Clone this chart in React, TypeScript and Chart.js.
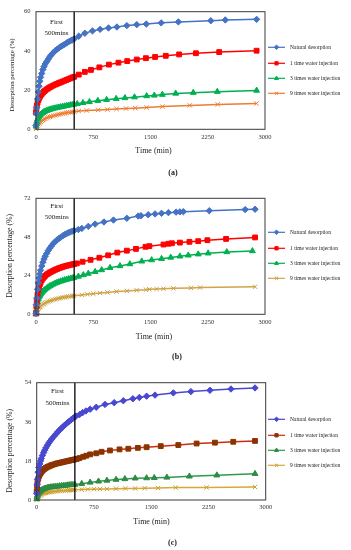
import React, { useEffect, useRef } from "react";
import { Chart, registerables } from "chart.js";
import { drawPoint } from "chart.js/helpers";

Chart.register(...registerables);

const SERIF = '"Liberation Serif", "Times New Roman", serif';

// ---------- shared ----------
const seriesNames = [
  "Natural desorption",
  "1 time water injection",
  "3 times water injection",
  "9 times water injection",
];
const xTicks = [0, 750, 1500, 2250, 3000];
const firstMarkMinutes = 500;
const firstLabel = "First";
const minsLabel = "500mins";
const xTitle = "Time (min)";
const yTitle = "Desorption percentage (%)";
const earlyTimes = [0, 5, 10, 20, 30, 40, 50, 60, 75, 90, 105, 120, 140, 160, 180, 200, 225, 250, 275, 300, 325, 350, 375, 400, 425, 450, 475, 500];

// ---------- (a) ----------
const aYTicks = [0, 20, 40, 60];
const aNaturalEarly = [2, 8, 11, 15.5, 19, 22, 24.5, 26.5, 28.5, 30.5, 32, 33.3, 34.5, 35.8, 37, 38, 39, 40, 40.8, 41.5, 42.2, 42.8, 43.4, 44, 44.6, 45.1, 45.6, 46.1];
const aNaturalT = [560, 640, 740, 840, 950, 1060, 1190, 1320, 1445, 1640, 1865, 2290, 2480, 2890];
const aNaturalV = [47.5, 49, 50.2, 51, 51.7, 52.2, 52.9, 53.4, 53.7, 54.3, 54.8, 55.4, 55.8, 56.1];
const aOneEarly = [8.5, 10.5, 12, 13.5, 14.8, 15.8, 16.6, 17.2, 18, 18.7, 19.3, 19.8, 20.4, 20.9, 21.4, 21.8, 22.3, 22.8, 23.2, 23.6, 24, 24.4, 24.8, 25.2, 25.6, 26, 26.4, 26.8];
const aOneT = [560, 640, 720, 830, 955, 1080, 1195, 1320, 1440, 1560, 1700, 1875, 2095, 2400, 2890];
const aOneV = [27.9, 29.3, 30.3, 31.6, 33, 34, 34.8, 35.6, 36.3, 36.9, 37.5, 38.2, 38.8, 39.4, 40.1];
const aThreeEarly = [1.5, 3, 4, 5.2, 6, 6.7, 7.2, 7.6, 8.1, 8.5, 8.9, 9.2, 9.5, 9.8, 10.1, 10.3, 10.6, 10.8, 11, 11.2, 11.4, 11.6, 11.8, 12, 12.2, 12.4, 12.5, 12.7];
const aThreeT = [540, 615, 700, 810, 925, 1050, 1165, 1290, 1450, 1550, 1655, 1830, 2060, 2375, 2890];
const aThreeV = [13, 13.5, 14, 14.6, 15.1, 15.6, 16, 16.4, 17, 17.3, 17.7, 18.3, 18.7, 19.2, 19.8];
const aNineEarly = [0.2, 0.8, 1.3, 2, 2.6, 3.1, 3.5, 3.9, 4.4, 4.8, 5.1, 5.4, 5.8, 6.1, 6.4, 6.6, 6.9, 7.1, 7.4, 7.6, 7.8, 8, 8.2, 8.4, 8.6, 8.7, 8.9, 9];
const aNineT = [560, 665, 815, 935, 1055, 1180, 1300, 1450, 1655, 2015, 2380, 2890];
const aNineV = [9.3, 9.6, 9.9, 10.1, 10.4, 10.6, 10.8, 11.1, 11.6, 12.2, 12.7, 13.2];

// ---------- (b) ----------
const bYTicks = [0, 24, 48, 72];
const bNaturalEarly = [0.5, 6, 10, 15.5, 19.5, 22.5, 25, 27.3, 30, 32.3, 34.3, 36, 37.8, 39.5, 41, 42.3, 43.8, 45, 46.1, 47, 47.9, 48.7, 49.4, 50, 50.6, 51.1, 51.6, 52];
const bNaturalT = [555, 600, 685, 775, 890, 1015, 1190, 1340, 1375, 1470, 1560, 1645, 1735, 1835, 1885, 1930, 2270, 2740, 2870];
const bNaturalV = [52.6, 53.3, 54.6, 56, 57.3, 58.5, 59.6, 61, 61.2, 61.8, 62.3, 62.7, 63.1, 63.4, 63.6, 63.7, 64.3, 65, 65.2];
const bOneEarly = [0.5, 5, 8, 12, 15, 17, 18.5, 19.7, 21.2, 22.3, 23.2, 23.9, 24.7, 25.3, 25.9, 26.4, 27, 27.6, 28.1, 28.6, 29, 29.4, 29.8, 30.1, 30.4, 30.7, 31, 31.2];
const bOneT = [535, 610, 715, 830, 945, 1065, 1190, 1310, 1435, 1485, 1670, 1735, 1780, 1885, 2010, 2125, 2245, 2490, 2870];
const bOneV = [31.6, 32.6, 33.8, 35.1, 36.6, 38.3, 39.5, 40.6, 41.9, 42.3, 43.3, 43.8, 44.1, 44.5, 45, 45.4, 46, 46.8, 47.7];
const bThreeEarly = [0.3, 3, 5, 7.5, 9.3, 10.6, 11.6, 12.4, 13.4, 14.2, 14.9, 15.5, 16.2, 16.9, 17.5, 18, 18.6, 19.2, 19.7, 20.1, 20.5, 20.9, 21.3, 21.6, 21.9, 22.2, 22.5, 22.8];
const bThreeT = [555, 620, 685, 775, 860, 970, 1100, 1230, 1385, 1515, 1645, 1765, 1885, 1995, 2125, 2255, 2500, 2835];
const bThreeV = [23.5, 24.4, 25.3, 26.4, 27.5, 28.9, 30, 31.2, 32.9, 33.7, 34.5, 35.3, 36, 36.6, 37.3, 37.9, 38.7, 39.3];
const bNineEarly = [0, 0.8, 1.5, 2.5, 3.3, 4, 4.5, 5, 5.6, 6.2, 6.6, 7, 7.5, 7.9, 8.3, 8.6, 9, 9.3, 9.6, 9.9, 10.1, 10.4, 10.6, 10.8, 11, 11.2, 11.4, 11.5];
const bNineT = [600, 675, 750, 840, 935, 1055, 1190, 1320, 1440, 1485, 1580, 1670, 1800, 2030, 2150, 2870];
const bNineV = [12, 12.4, 12.8, 13.2, 13.6, 14.1, 14.5, 14.9, 15.3, 15.5, 15.7, 15.9, 16.1, 16.4, 16.6, 17.1];

// ---------- (c) ----------
const cYTicks = [0, 18, 36, 54];
const cNaturalEarly = [3, 7, 9.5, 12.8, 15, 16.6, 18, 19.1, 20.5, 21.8, 22.9, 24, 25.2, 26.3, 27.3, 28.2, 29.3, 30.3, 31.3, 32.2, 33.1, 33.9, 34.7, 35.5, 36.2, 36.9, 37.6, 38.3];
const cNaturalT = [515, 560, 600, 645, 700, 780, 895, 1015, 1135, 1260, 1345, 1440, 1550, 1790, 2020, 2270, 2545, 2860];
const cNaturalV = [38.6, 39.3, 40.2, 41, 41.8, 42.7, 44, 44.8, 45.7, 46.6, 47.2, 47.8, 48.3, 49.3, 49.9, 50.5, 51.1, 51.6];
const cOneEarly = [4, 6.5, 8, 9.8, 11, 11.8, 12.4, 12.9, 13.5, 14, 14.4, 14.8, 15.2, 15.5, 15.8, 16.1, 16.4, 16.7, 16.9, 17.1, 17.3, 17.5, 17.7, 17.9, 18.1, 18.3, 18.5, 18.7];
const cOneT = [525, 560, 610, 650, 700, 780, 850, 960, 1085, 1200, 1325, 1440, 1625, 1855, 2095, 2335, 2575, 2860];
const cOneV = [18.9, 19.3, 19.9, 20.4, 21, 21.5, 22.2, 22.8, 23.3, 23.6, 24, 24.3, 24.8, 25.3, 26, 26.4, 26.8, 27.2];
const cThreeEarly = [0.5, 1.5, 2.2, 3, 3.5, 3.9, 4.2, 4.5, 4.8, 5, 5.2, 5.4, 5.6, 5.8, 5.9, 6, 6.1, 6.2, 6.3, 6.4, 6.5, 6.6, 6.7, 6.8, 6.9, 7, 7, 7.1];
const cThreeT = [590, 700, 810, 920, 1040, 1155, 1290, 1440, 1540, 1705, 2000, 2360, 2860];
const cThreeV = [7.5, 8.1, 8.6, 9, 9.4, 9.7, 10, 10.1, 10.2, 10.4, 10.9, 11.4, 12.1];
const cNineEarly = [0, 0.5, 0.9, 1.4, 1.8, 2.1, 2.4, 2.6, 2.8, 3, 3.2, 3.3, 3.5, 3.6, 3.7, 3.8, 3.9, 4, 4.1, 4.2, 4.3, 4.3, 4.4, 4.5, 4.5, 4.6, 4.6, 4.7];
const cNineT = [590, 670, 750, 830, 920, 1040, 1160, 1290, 1415, 1590, 1820, 2225, 2860];
const cNineV = [4.8, 4.9, 5, 5.1, 5.1, 5.2, 5.3, 5.3, 5.4, 5.5, 5.7, 5.8, 6.0];

const pointStyles = ["rectRot", "rect", "triangle", "crossRot"];
const pointRadii = [3.2, 3.4, 3.4, 3.1];

function pts(early: number[], t: number[], v: number[]) {
  return [
    ...earlyTimes.map((x, i) => ({ x, y: early[i] })),
    ...t.map((x, i) => ({ x, y: v[i] })),
  ];
}

type Spec = {
  top: number;
  height: number;
  padLeft: number;
  plotTop: number;
  plotBottom: number;
  plotRight: number;
  yTicks: number[];
  series: { x: number; y: number }[][];
  lineColors: string[];
  pointColors: string[];
  yTitleX: number;
  yTitleY: number;
  yTitleSize: number;
  xTitleX: number;
  xTitleY: number;
  tag: string;
  tagX: number;
  tagY: number;
  firstX: number;
  firstY: number;
  minsY: number;
  legendY: number[];
};

const specs: Spec[] = [
  {
    top: 0, height: 183, padLeft: 0, plotTop: 11.7, plotBottom: 129.3, plotRight: 265,
    yTicks: aYTicks,
    series: [
      pts(aNaturalEarly, aNaturalT, aNaturalV),
      pts(aOneEarly, aOneT, aOneV),
      pts(aThreeEarly, aThreeT, aThreeV),
      pts(aNineEarly, aNineT, aNineV),
    ],
    lineColors: ["#4472C4", "#FF0000", "#00B050", "#ED7D31"],
    pointColors: ["#4472C4", "#FF0000", "#00B050", "#ED7D31"],
    yTitleX: 12.5, yTitleY: 75, yTitleSize: 6.8,
    xTitleX: 153.5, xTitleY: 150.7,
    tag: "(a)", tagX: 173, tagY: 173.3,
    firstX: 56.5, firstY: 21.7, minsY: 33,
    legendY: [47.3, 63.3, 78.3, 93.3],
  },
  {
    top: 183, height: 183, padLeft: 0, plotTop: 15.3, plotBottom: 131.3, plotRight: 265,
    yTicks: bYTicks,
    series: [
      pts(bNaturalEarly, bNaturalT, bNaturalV),
      pts(bOneEarly, bOneT, bOneV),
      pts(bThreeEarly, bThreeT, bThreeV),
      pts(bNineEarly, bNineT, bNineV),
    ],
    lineColors: ["#4472C4", "#FF0000", "#00B050", "#D4A24A"],
    pointColors: ["#4472C4", "#FF0000", "#00B050", "#C9A040"],
    yTitleX: 10, yTitleY: 72.8, yTitleSize: 7.8,
    xTitleX: 154, xTitleY: 154,
    tag: "(b)", tagX: 177, tagY: 173.7,
    firstX: 56.7, firstY: 22.7, minsY: 33.7,
    legendY: [49.3, 65.3, 80.3, 95.3],
  },
  {
    top: 366, height: 184, padLeft: 0.7, plotTop: 16.7, plotBottom: 134, plotRight: 265.7,
    yTicks: cYTicks,
    series: [
      pts(cNaturalEarly, cNaturalT, cNaturalV),
      pts(cOneEarly, cOneT, cOneV),
      pts(cThreeEarly, cThreeT, cThreeV),
      pts(cNineEarly, cNineT, cNineV),
    ],
    lineColors: ["#4848D0", "#D02A12", "#2E9A4A", "#D8A838"],
    pointColors: ["#4848D0", "#8B3300", "#2E8B45", "#C8A030"],
    yTitleX: 9.5, yTitleY: 84.8, yTitleSize: 7.8,
    xTitleX: 151.5, xTitleY: 156.3,
    tag: "(c)", tagX: 172.5, tagY: 176.7,
    firstX: 57.5, firstY: 25, minsY: 36.7,
    legendY: [53.3, 69.3, 84.3, 99.3],
  },
];

function makeDecor(spec: Spec) {
  return {
    id: "decor",
    afterDatasetsDraw(chart: any) {
      const { ctx, chartArea: ca } = chart;
      const xs = chart.scales.x;
      ctx.save();
      // 500 min marker
      const px = xs.getPixelForValue(firstMarkMinutes);
      ctx.strokeStyle = "#000";
      ctx.lineWidth = 1.3;
      ctx.beginPath();
      ctx.moveTo(px, ca.top);
      ctx.lineTo(px, ca.bottom);
      ctx.stroke();
      // frame
      ctx.strokeStyle = "#3a3a3a";
      ctx.lineWidth = 1;
      ctx.strokeRect(ca.left, ca.top, ca.right - ca.left, ca.bottom - ca.top);
      // annotations
      ctx.fillStyle = "#222";
      ctx.textAlign = "center";
      ctx.textBaseline = "middle";
      ctx.font = `7px ${SERIF}`;
      ctx.fillText(firstLabel, spec.firstX, spec.firstY);
      ctx.fillText(minsLabel, spec.firstX, spec.minsY);
      ctx.font = `8px ${SERIF}`;
      ctx.fillText(xTitle, spec.xTitleX, spec.xTitleY);
      ctx.save();
      ctx.translate(spec.yTitleX, spec.yTitleY);
      ctx.rotate(-Math.PI / 2);
      ctx.font = `${spec.yTitleSize}px ${SERIF}`;
      ctx.fillText(yTitle, 0, 0);
      ctx.restore();
      ctx.font = `bold 8px ${SERIF}`;
      ctx.fillText(spec.tag, spec.tagX, spec.tagY);
      // legend
      chart.data.datasets.forEach((ds: any, i: number) => {
        const y = spec.legendY[i];
        ctx.strokeStyle = ds.borderColor;
        ctx.lineWidth = 1.2;
        ctx.beginPath();
        ctx.moveTo(268, y);
        ctx.lineTo(285, y);
        ctx.stroke();
        ctx.fillStyle = ds.pointBackgroundColor;
        ctx.strokeStyle = ds.pointBorderColor;
        ctx.lineWidth = 1;
        drawPoint(ctx, { pointStyle: ds.pointStyle, radius: 2.3, rotation: 0, borderWidth: 1 } as any, 276.5, y);
        ctx.fillStyle = "#222";
        ctx.textAlign = "left";
        ctx.font = `5.5px ${SERIF}`;
        ctx.fillText(ds.label, 290, y);
      });
      ctx.restore();
    },
  };
}

function Panel({ spec }: { spec: Spec }) {
  const ref = useRef<HTMLCanvasElement | null>(null);
  useEffect(() => {
    if (!ref.current) return;
    const yT = spec.yTicks;
    const chart = new Chart(ref.current, {
      type: "line",
      data: {
        datasets: spec.series.map((data, i) => ({
          label: seriesNames[i],
          data,
          borderColor: spec.lineColors[i],
          backgroundColor: spec.pointColors[i],
          pointBackgroundColor: spec.pointColors[i],
          pointBorderColor: spec.pointColors[i],
          pointStyle: pointStyles[i] as any,
          pointRadius: pointRadii[i],
          pointBorderWidth: 1,
          borderWidth: 1.5,
          tension: 0,
          fill: false,
          clip: false as any,
        })),
      },
      options: {
        animation: false,
        responsive: false,
        devicePixelRatio: 1,
        layout: {
          padding: {
            left: spec.padLeft,
            right: 351 - spec.plotRight,
            top: spec.plotTop,
            bottom: 0,
          },
        },
        plugins: {
          legend: { display: false },
          tooltip: { enabled: false },
        },
        scales: {
          x: {
            type: "linear",
            min: xTicks[0],
            max: xTicks[xTicks.length - 1],
            afterBuildTicks: (s: any) => {
              s.ticks = xTicks.map((v) => ({ value: v }));
            },
            afterFit: (s: any) => {
              s.height = spec.height - spec.plotBottom;
            },
            grid: { display: false, drawTicks: false },
            border: { display: false },
            ticks: {
              autoSkip: false,
              maxRotation: 0,
              padding: 3.8,
              color: "#333",
              font: { family: SERIF, size: 6.5 },
              callback: (v: any) => String(v),
            },
          },
          y: {
            type: "linear",
            min: yT[0],
            max: yT[yT.length - 1],
            afterBuildTicks: (s: any) => {
              s.ticks = yT.map((v) => ({ value: v }));
            },
            afterFit: (s: any) => {
              s.width = 36;
            },
            grid: { display: false, drawTicks: false },
            border: { display: false },
            ticks: {
              padding: 5.5,
              color: "#333",
              font: { family: SERIF, size: 6.5 },
              callback: (v: any) => String(v),
            },
          },
        },
      },
      plugins: [makeDecor(spec)],
    });
    return () => chart.destroy();
  }, [spec]);
  return (
    <canvas
      ref={ref}
      width={351}
      height={spec.height}
      style={{ position: "absolute", left: 0, top: spec.top, width: 351, height: spec.height }}
    />
  );
}

export default function App() {
  return (
    <div style={{ position: "absolute", left: 0, top: 0, width: 351, height: 550, background: "#fff" }}>
      {specs.map((s) => (
        <Panel key={s.tag} spec={s} />
      ))}
    </div>
  );
}
